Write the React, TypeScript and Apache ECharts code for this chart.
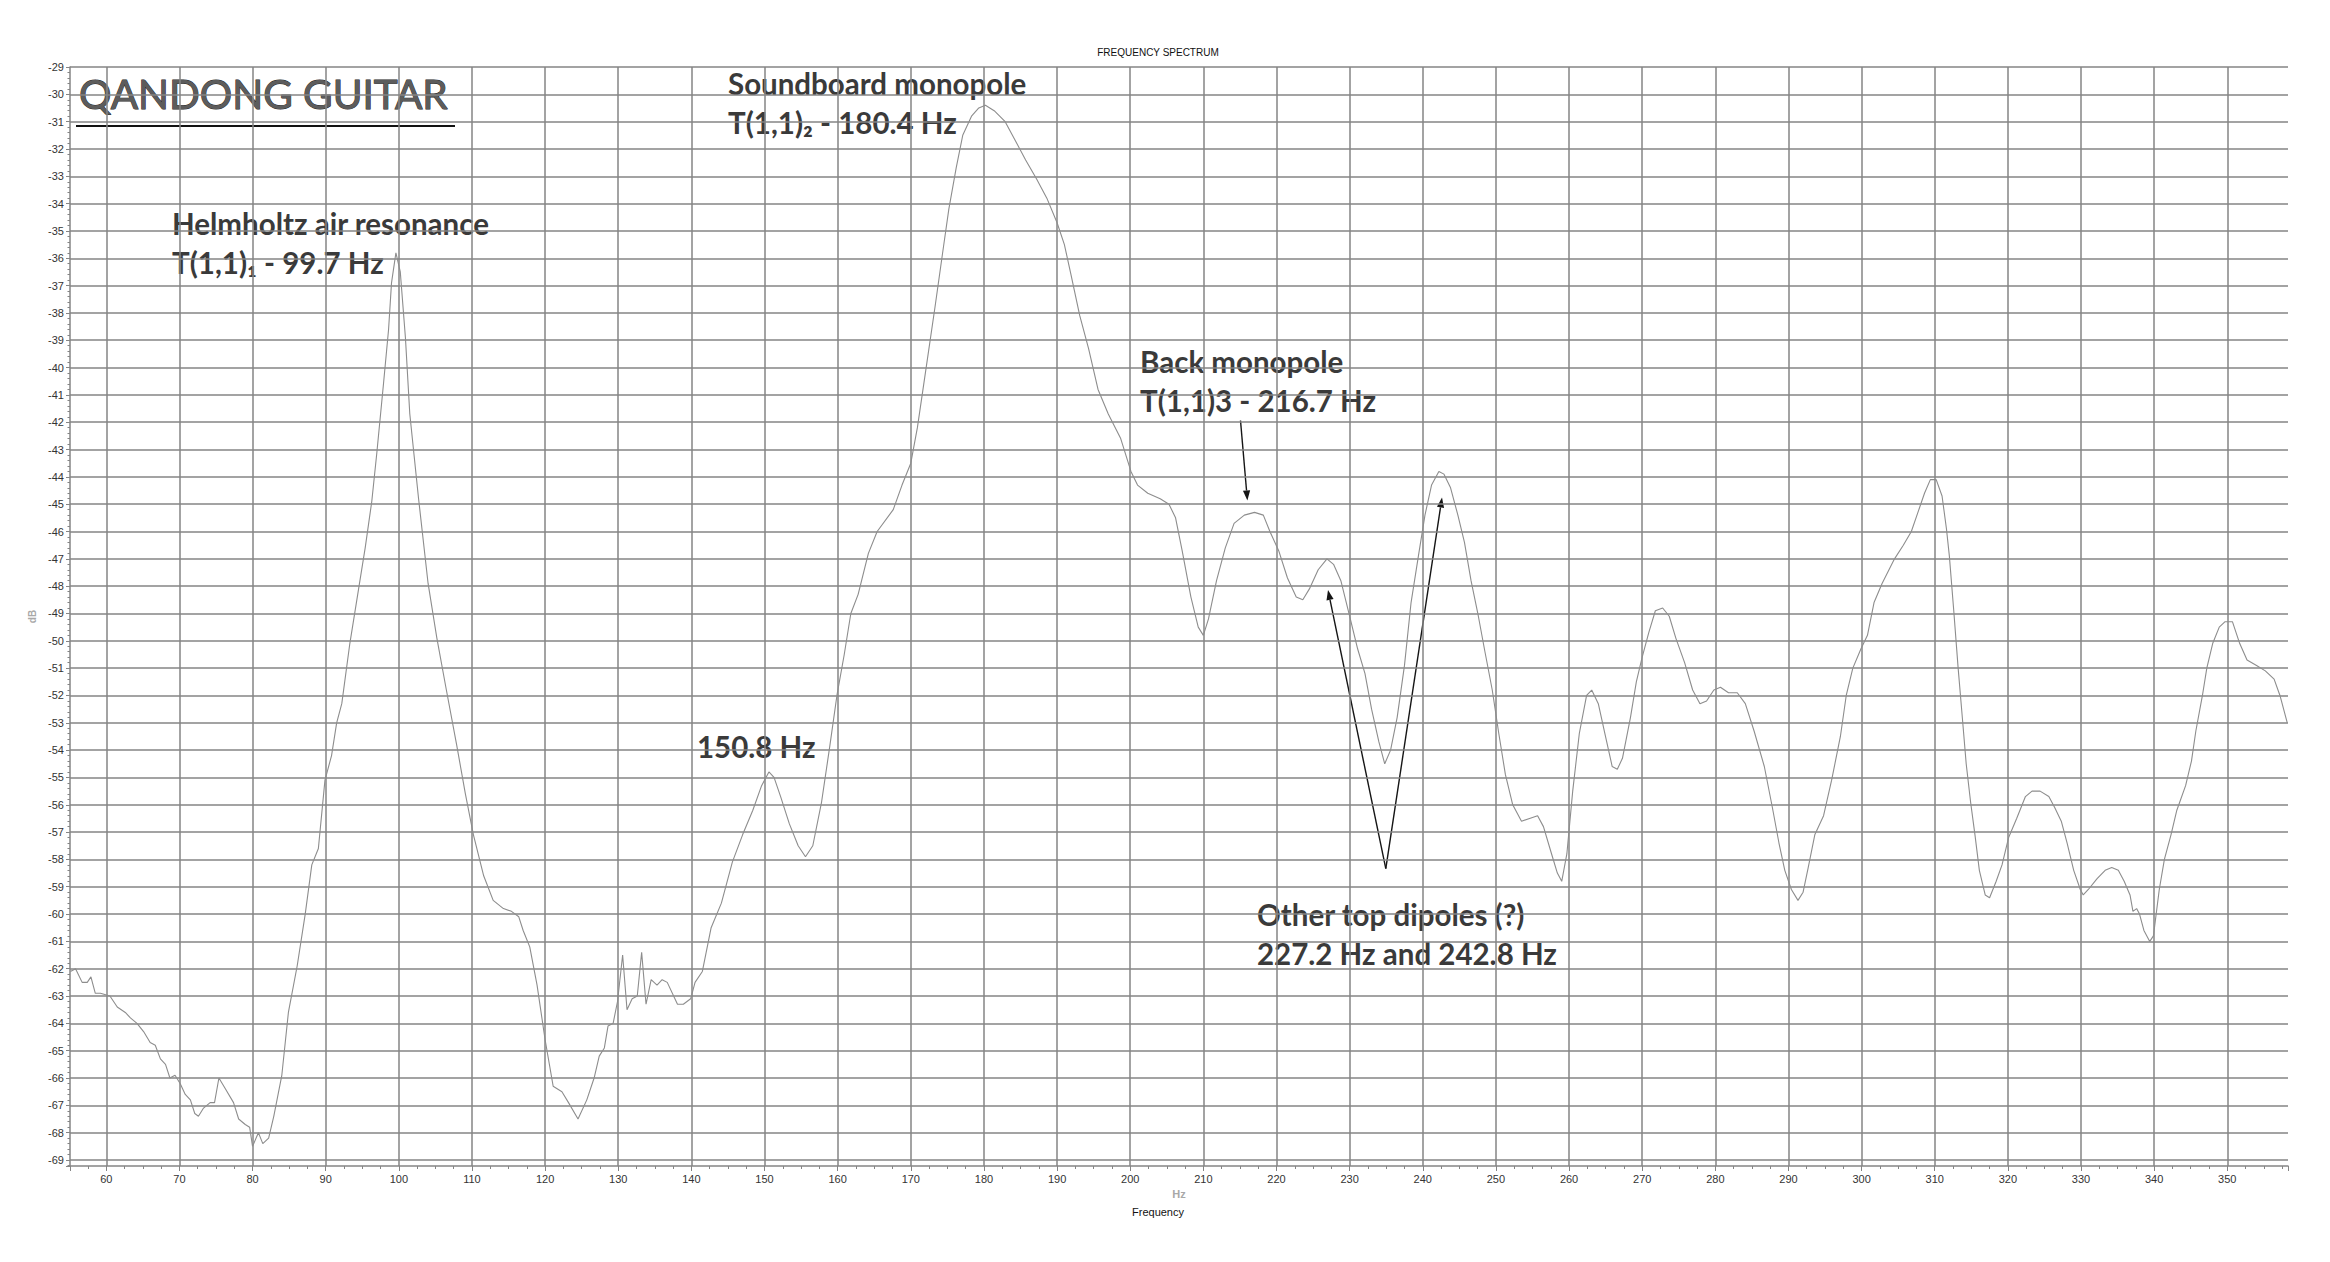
import React, { useEffect, useRef } from "react";
import * as echarts from "echarts";

// ---- data (frequency in Hz, level in dB) ----
const freqHz: number[] = [
  55.1, 55.8, 56.7, 57.4, 57.9, 58.5, 59.2, 60.5, 61.5, 62.6, 63.3, 64.2, 65.1, 66.0, 66.7, 67.4, 68.1, 68.7, 69.4, 70.1,
  70.8, 71.5, 72.1, 72.6, 73.3, 74.2, 74.8, 75.4, 76.3, 77.4, 78.1, 79.0, 79.6, 80.0, 80.8, 81.4, 82.2, 82.9, 84.0, 84.9,
  86.1, 87.2, 88.1, 89.0, 89.9, 90.8, 91.5, 92.2, 93.3, 94.5, 95.4, 96.3, 97.0, 97.9, 98.6, 99.0, 99.6, 100.2, 100.9, 101.5,
  102.7, 104.0, 105.2, 106.5, 107.9, 109.1, 110.2, 111.6, 112.9, 114.3, 115.4, 116.4, 117.0, 117.9, 118.9, 120.0, 121.1, 122.3, 123.2, 124.5,
  125.7, 126.7, 127.4, 128.1, 128.6, 129.3, 129.9, 130.6, 131.2, 131.9, 132.6, 133.2, 133.8, 134.5, 135.3, 136.0, 136.7, 138.1, 138.9, 139.9,
  140.5, 141.5, 142.7, 144.1, 145.6, 147.0, 148.4, 149.6, 150.6, 151.3, 152.2, 153.4, 154.6, 155.6, 156.6, 157.8, 158.9, 159.9, 160.9, 161.8,
  162.8, 164.2, 165.4, 167.6, 168.8, 170.0, 170.9, 172.1, 173.3, 174.3, 175.2, 176.2, 177.1, 178.3, 179.3, 180.2, 181.4, 182.9, 184.3, 185.7,
  187.2, 188.6, 190.0, 191.0, 191.9, 193.1, 194.3, 195.6, 197.0, 198.7, 200.1, 201.0, 202.4, 204.1, 205.3, 206.2, 207.1, 208.3, 209.3, 210.0,
  210.7, 211.8, 213.0, 214.2, 215.6, 217.0, 218.2, 219.1, 220.3, 221.5, 222.7, 223.6, 224.5, 225.7, 226.9, 227.8, 228.8, 230.0, 231.1, 232.1,
  233.0, 234.0, 234.8, 235.6, 236.5, 237.5, 238.4, 239.4, 240.3, 241.2, 242.2, 242.9, 243.8, 244.8, 245.7, 246.6, 247.6, 248.5, 249.5, 250.4,
  251.3, 252.3, 253.5, 254.6, 255.7, 256.5, 257.5, 258.4, 259.0, 259.7, 260.5, 261.4, 262.4, 263.1, 264.0, 264.9, 265.9, 266.6, 267.3, 268.4,
  269.2, 270.0, 270.9, 271.8, 272.8, 273.7, 274.6, 275.8, 276.9, 277.9, 278.8, 279.8, 280.7, 281.8, 283.0, 284.1, 285.3, 286.7, 287.8, 288.7,
  289.5, 290.4, 291.3, 292.0, 292.7, 293.6, 294.8, 295.9, 297.1, 297.9, 298.8, 299.9, 300.8, 301.7, 302.8, 304.5, 305.7, 306.8, 307.7, 308.6,
  309.4, 310.2, 311.0, 311.6, 312.0, 312.6, 313.2, 313.8, 314.3, 314.9, 315.5, 316.1, 316.9, 317.5, 318.4, 319.2, 320.1, 321.2, 322.4, 323.3,
  324.4, 325.6, 326.4, 327.3, 328.1, 329.0, 329.9, 330.3, 331.0, 332.2, 333.3, 334.2, 335.1, 335.9, 336.7, 337.1, 337.6, 338.0, 338.6, 339.4,
  339.9, 340.7, 341.4, 342.3, 343.1, 344.3, 345.1, 345.7, 346.6, 347.2, 348.0, 348.9, 349.7, 350.7, 351.7, 352.7, 354.0, 355.2, 356.4, 357.2,
  358.2,
];

const levelDb: number[] = [
  -62.1, -62.0, -62.5, -62.5, -62.3, -62.9, -62.9, -63.0, -63.4, -63.6, -63.8, -64.0, -64.3, -64.7, -64.8, -65.3, -65.5, -66.0, -65.9, -66.2,
  -66.6, -66.8, -67.3, -67.4, -67.1, -66.9, -66.9, -66.0, -66.4, -66.9, -67.5, -67.7, -67.8, -68.5, -68.0, -68.4, -68.2, -67.4, -65.9, -63.6,
  -61.9, -60.0, -58.2, -57.6, -55.1, -54.2, -53.0, -52.3, -50.1, -48.1, -46.6, -44.9, -43.1, -40.6, -38.6, -36.9, -35.8, -36.5, -38.9, -41.7,
  -44.8, -47.9, -49.9, -51.8, -53.8, -55.6, -57.1, -58.6, -59.5, -59.8, -59.9, -60.1, -60.6, -61.2, -62.6, -64.6, -66.3, -66.5, -66.9, -67.5,
  -66.8, -66.0, -65.2, -64.9, -64.1, -64.0, -63.2, -61.5, -63.5, -63.1, -63.0, -61.4, -63.3, -62.4, -62.6, -62.4, -62.5, -63.3, -63.3, -63.1,
  -62.5, -62.1, -60.5, -59.6, -58.1, -57.1, -56.2, -55.3, -54.8, -55.0, -55.7, -56.7, -57.5, -57.9, -57.5, -55.9, -53.9, -52.0, -50.5, -49.0,
  -48.3, -46.8, -46.0, -45.2, -44.3, -43.5, -42.2, -40.0, -37.8, -35.9, -34.2, -32.7, -31.5, -30.8, -30.5, -30.4, -30.6, -31.0, -31.7, -32.4,
  -33.1, -33.8, -34.7, -35.5, -36.6, -38.1, -39.3, -40.8, -41.7, -42.6, -43.8, -44.3, -44.6, -44.8, -45.0, -45.5, -46.7, -48.4, -49.5, -49.8,
  -49.2, -47.8, -46.6, -45.7, -45.4, -45.3, -45.4, -46.0, -46.7, -47.7, -48.4, -48.5, -48.1, -47.4, -47.0, -47.2, -47.8, -49.1, -50.3, -51.2,
  -52.5, -53.7, -54.5, -54.0, -52.8, -50.9, -48.6, -46.9, -45.4, -44.3, -43.8, -43.9, -44.4, -45.4, -46.4, -47.8, -49.1, -50.4, -51.8, -53.4,
  -54.9, -56.0, -56.6, -56.5, -56.4, -56.8, -57.7, -58.5, -58.8, -57.8, -55.5, -53.4, -52.0, -51.8, -52.3, -53.4, -54.6, -54.7, -54.3, -52.8,
  -51.5, -50.6, -49.7, -48.9, -48.8, -49.1, -49.9, -50.8, -51.8, -52.3, -52.2, -51.8, -51.7, -51.9, -51.9, -52.3, -53.3, -54.6, -56.1, -57.4,
  -58.4, -59.1, -59.5, -59.2, -58.3, -57.1, -56.4, -55.1, -53.5, -52.0, -51.0, -50.3, -49.8, -48.6, -47.9, -47.0, -46.5, -46.0, -45.3, -44.6,
  -44.1, -44.1, -44.7, -45.9, -46.9, -48.9, -51.0, -52.9, -54.5, -55.9, -57.1, -58.4, -59.3, -59.4, -58.8, -58.2, -57.2, -56.5, -55.7, -55.5,
  -55.5, -55.7, -56.1, -56.6, -57.4, -58.4, -59.1, -59.3, -59.1, -58.7, -58.4, -58.3, -58.4, -58.8, -59.3, -59.9, -59.8, -60.0, -60.6, -61.0,
  -60.8, -59.1, -58.0, -57.1, -56.2, -55.3, -54.4, -53.3, -52.0, -51.0, -50.1, -49.5, -49.3, -49.3, -50.1, -50.7, -50.9, -51.1, -51.4, -52.0,
  -53.0,
];

// ---- axis settings / texts ----
const xMin = 55.04;
const xMax = 358.3;
const yMin = -69.22;
const yMax = -29;
const chartTitle = "FREQUENCY SPECTRUM";
const brandTitle = "QANDONG GUITAR";
const xUnit = "Hz";
const xTitle = "Frequency";
const yUnit = "dB";

const annotations = [
  { lines: ["Helmholtz air resonance", "T(1,1)\u2081 - 99.7 Hz"], x: 172, y: 223 },
  { lines: ["Soundboard monopole", "T(1,1)\u2082 - 180.4 Hz"], x: 728, y: 83 },
  { lines: ["Back monopole", "T(1,1)3 - 216.7 Hz"], x: 1140, y: 361 },
  { lines: ["150.8 Hz"], x: 697, y: 746 },
  { lines: ["Other top dipoles (?)", "227.2 Hz and 242.8 Hz"], x: 1257, y: 914 },
];

const arrows = [
  [1240.5, 420.5, 1247.4, 500.5],
  [1385.8, 868.7, 1328, 590],
  [1385.8, 868.7, 1442, 497.5],
];

function arrowElements(a: number[]) {
  const [x1, y1, x2, y2] = a;
  const ang = Math.atan2(y2 - y1, x2 - x1);
  const L = 10;
  const W = 3.6;
  const bx = x2 - L * Math.cos(ang);
  const by = y2 - L * Math.sin(ang);
  const px = -Math.sin(ang) * W;
  const py = Math.cos(ang) * W;
  return [
    {
      type: "line",
      shape: { x1, y1, x2: bx, y2: by },
      style: { stroke: "#151515", lineWidth: 1.4 },
    },
    {
      type: "polygon",
      shape: { points: [[x2, y2], [bx + px, by + py], [bx - px, by - py]] },
      style: { fill: "#151515" },
    },
  ];
}

export default function App() {
  const ref = useRef<HTMLDivElement>(null);

  useEffect(() => {
    if (!ref.current) return;
    const chart = echarts.init(ref.current, undefined, { renderer: "svg" });

    const data = freqHz.map((f, i) => [f, levelDb[i]]);
    const gridColor = "#858585";
    const labelFont = "Liberation Sans";

    const graphics: any[] = [
      {
        type: "text",
        x: 1158,
        y: 52,
        style: {
          text: chartTitle,
          font: "10px 'Liberation Sans'",
          fill: "#111",
          align: "center",
          verticalAlign: "middle",
          textAlign: "center",
          textVerticalAlign: "middle",
        },
      },
      {
        type: "text",
        x: 1158,
        y: 1212,
        style: {
          text: xTitle,
          font: "11px 'Liberation Sans'",
          fill: "#111",
          align: "center",
          verticalAlign: "middle",
          textAlign: "center",
          textVerticalAlign: "middle",
        },
      },
      {
        type: "text",
        x: 79,
        y: 93,
        style: {
          text: brandTitle,
          font: "40.5px Lato",
          fill: "#5c5c5c",
          stroke: "#262626",
          lineWidth: 1,
          align: "left",
          verticalAlign: "middle",
          textAlign: "left",
          textVerticalAlign: "middle",
        },
      },
      {
        type: "line",
        shape: { x1: 76, y1: 126, x2: 455, y2: 126 },
        style: { stroke: "#111", lineWidth: 2 },
      },
    ];

    annotations.forEach((a) => {
      a.lines.forEach((t, i) => {
        graphics.push({
          type: "text",
          x: a.x,
          y: a.y + i * 39,
          style: {
            text: t,
            font: "bold 29.5px Lato",
            fill: "#3a3a3a",
            align: "left",
            verticalAlign: "middle",
            textAlign: "left",
            textVerticalAlign: "middle",
          },
        });
      });
    });
    arrows.forEach((a) => graphics.push(...arrowElements(a)));

    const option: any = {
      animation: false,
      backgroundColor: "#ffffff",
      grid: { left: 70, right: 42, top: 67, bottom: 96, containLabel: false },
      xAxis: {
        type: "value",
        min: xMin,
        max: xMax,
        splitNumber: 30,
        minInterval: 10,
        maxInterval: 10,
        name: xUnit,
        nameLocation: "middle",
        nameGap: 21,
        nameTextStyle: { color: "#a8a8a8", fontWeight: "bold", fontSize: 11, fontFamily: labelFont },
        axisLine: { show: true, onZero: false, lineStyle: { color: gridColor, width: 1.5 } },
        axisTick: { show: true, length: 5, lineStyle: { color: gridColor, width: 1 } },
        minorTick: { show: true, splitNumber: 4, length: 3, lineStyle: { color: gridColor, width: 1 } },
        axisLabel: {
          color: "#333",
          fontSize: 11,
          fontFamily: labelFont,
          margin: 7,
          showMinLabel: false,
          showMaxLabel: false,
          formatter: (v: number) => (Math.abs(v - Math.round(v)) < 1e-6 ? String(Math.round(v)) : ""),
        },
        splitLine: { show: true, showMinLine: false, showMaxLine: false, lineStyle: { color: gridColor, width: 1.5 } },
      },
      yAxis: {
        type: "value",
        min: yMin,
        max: yMax,
        splitNumber: 40,
        minInterval: 1,
        maxInterval: 1,
        name: yUnit,
        nameLocation: "middle",
        nameGap: 32,
        nameRotate: 90,
        nameTextStyle: { color: "#a8a8a8", fontWeight: "bold", fontSize: 10, fontFamily: labelFont },
        axisLine: { show: true, onZero: false, lineStyle: { color: gridColor, width: 1.5 } },
        axisTick: { show: true, length: 4, lineStyle: { color: gridColor, width: 1 } },
        minorTick: { show: true, splitNumber: 5, length: 2.5, lineStyle: { color: gridColor, width: 1 } },
        axisLabel: {
          color: "#333",
          fontSize: 11,
          fontFamily: labelFont,
          margin: 6,
          showMinLabel: false,
          formatter: (v: number) => (Math.abs(v - Math.round(v)) < 1e-6 ? String(Math.round(v)) : ""),
        },
        splitLine: { show: true, showMinLine: false, lineStyle: { color: gridColor, width: 1.5 } },
      },
      series: [
        {
          type: "line",
          data,
          showSymbol: false,
          symbol: "none",
          smooth: false,
          lineStyle: { color: "#8d8d8d", width: 1.1 },
          z: 3,
        },
      ],
      graphic: graphics,
    };

    chart.setOption(option);
    return () => chart.dispose();
  }, []);

  return (
    <div
      ref={ref}
      style={{ position: "fixed", left: 0, top: 0, width: 2330, height: 1262, background: "#fff" }}
    />
  );
}
